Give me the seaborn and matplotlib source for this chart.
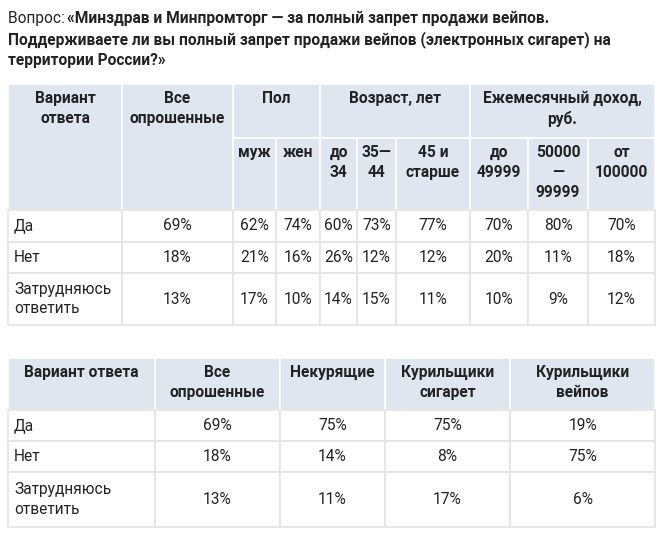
import matplotlib
matplotlib.use("Agg")
import matplotlib.pyplot as plt
import seaborn as sns
from matplotlib.patches import Rectangle

sns.set_theme(style="white", font="Roboto")

title_prefix = "Вопрос: "
title_lines = ["«Минздрав и Минпромторг — за полный запрет продажи вейпов.",
               "Поддерживаете ли вы полный запрет продажи вейпов (электронных сигарет) на",
               "территории России?»"]

answers = ["Да", "Нет", "Затрудняюсь\nответить"]
t1_all = ["69%", "18%", "13%"]
t1_male = ["62%", "21%", "17%"]
t1_female = ["74%", "16%", "10%"]
t1_age = [["60%", "26%", "14%"], ["73%", "12%", "15%"], ["77%", "12%", "11%"]]
t1_inc = [["70%", "20%", "10%"], ["80%", "11%", "9%"], ["70%", "18%", "12%"]]
age_labels = ["до\n34", "35—\n44", "45 и\nстарше"]
inc_labels = ["до\n49999", "50000\n—\n99999", "от\n100000"]

t2_head = ["Вариант ответа", "Все\nопрошенные", "Некурящие", "Курильщики\nсигарет", "Курильщики\nвейпов"]
t2_all = ["69%", "18%", "13%"]
t2_nonsmk = ["75%", "14%", "11%"]
t2_cig = ["75%", "8%", "17%"]
t2_vape = ["19%", "75%", "6%"]

HEAD = "#dfe6f0"
LINE = "#e4e4e4"
TXT = "#222222"
FS = 11.2

fig = plt.figure(figsize=(6.6, 5.37), dpi=100)
ax = fig.add_axes([0, 0, 1, 1])
ax.set_xlim(0, 660)
ax.set_ylim(537, 0)
ax.axis("off")


def cell(x0, x1, y0, y1, text="", bg="white", bold=False, align="center", valign="top"):
    ax.add_patch(Rectangle((x0, y0), x1 - x0, y1 - y0, facecolor=bg,
                           edgecolor="white" if bg != "white" else LINE, lw=1.2))
    if not text:
        return
    tx = (x0 + x1) / 2 if align == "center" else x0 + 6
    if valign == "top":
        ty, va = y0 + 7, "top"
    else:
        ty, va = (y0 + y1) / 2, "center"
    ax.text(tx, ty, text, ha=align, va=va, fontsize=FS, color=TXT,
            fontweight="bold" if bold else "normal", linespacing=1.4)


# title
ax.text(8, 18, title_prefix, fontsize=FS, color=TXT, va="center")
ax.text(67, 18, title_lines[0], fontsize=FS, color=TXT, va="center", fontweight="bold")
ax.text(8, 40, title_lines[1], fontsize=FS, color=TXT, va="center", fontweight="bold")
ax.text(8, 61, title_lines[2], fontsize=FS, color=TXT, va="center", fontweight="bold")

# table 1
xs = [8, 122, 233, 276, 320, 357, 396, 470, 528, 588, 655]
ys = [210, 242, 273, 325]
cell(xs[0], xs[1], 84, 210, "Вариант\nответа", HEAD, True)
cell(xs[1], xs[2], 84, 210, "Все\nопрошенные", HEAD, True)
cell(xs[2], xs[4], 84, 138, "Пол", HEAD, True)
cell(xs[4], xs[7], 84, 138, "Возраст, лет", HEAD, True)
cell(xs[7], xs[10], 84, 138, "Ежемесячный доход,\nруб.", HEAD, True)
sub = ["муж", "жен"] + age_labels + inc_labels
for i, lab in enumerate(sub):
    cell(xs[2 + i], xs[3 + i], 138, 210, lab, HEAD, True)
cols1 = [t1_all, t1_male, t1_female] + t1_age + t1_inc
for r in range(3):
    cell(xs[0], xs[1], ys[r], ys[r + 1], answers[r], align="left", valign="center")
    for c in range(len(cols1)):
        cell(xs[1 + c], xs[2 + c], ys[r], ys[r + 1], cols1[c][r], valign="center")

# table 2
xs2 = [8, 155, 280, 385, 510, 655]
ys2 = [410, 441, 472, 527]
for i, lab in enumerate(t2_head):
    cell(xs2[i], xs2[i + 1], 358, 410, lab, HEAD, True)
cols2 = [t2_all, t2_nonsmk, t2_cig, t2_vape]
for r in range(3):
    cell(xs2[0], xs2[1], ys2[r], ys2[r + 1], answers[r], align="left", valign="center")
    for c in range(4):
        cell(xs2[1 + c], xs2[2 + c], ys2[r], ys2[r + 1], cols2[c][r], valign="center")

fig.savefig("out.png", dpi=100, facecolor="white")
